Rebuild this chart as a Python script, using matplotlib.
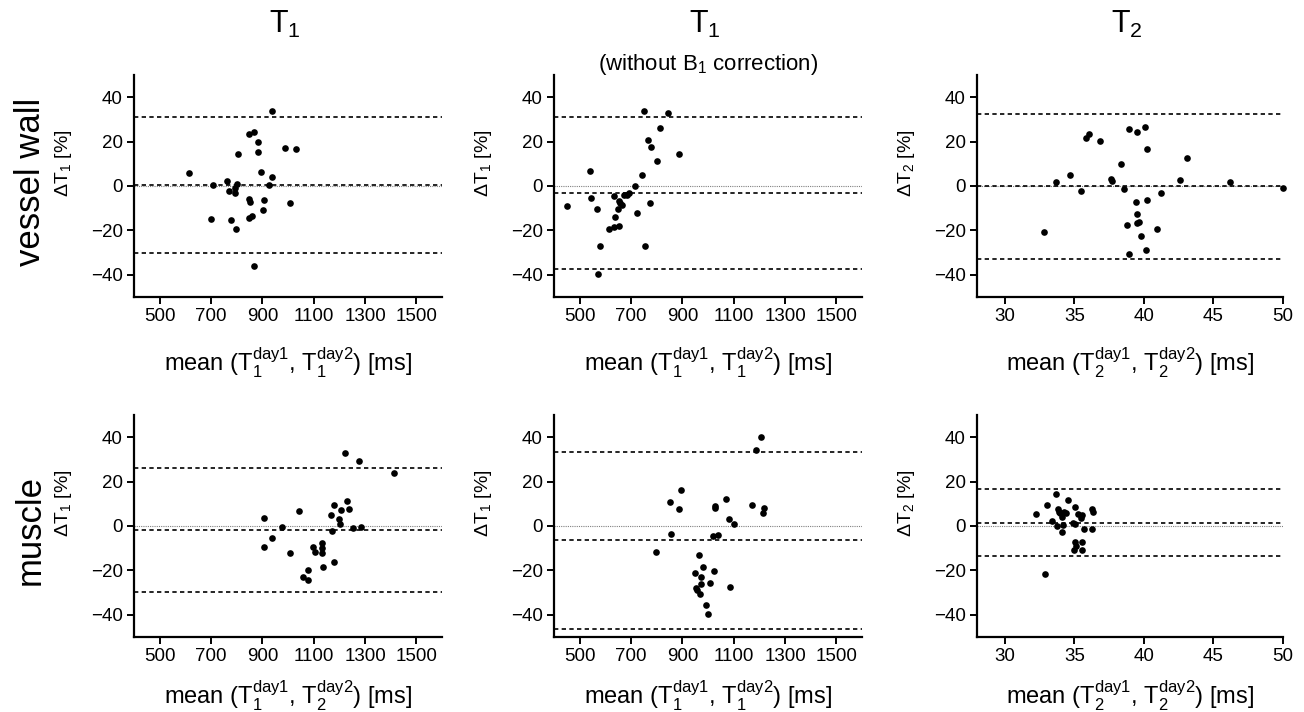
import matplotlib
matplotlib.use("Agg")
import matplotlib.pyplot as plt

plt.rcParams["font.family"] = ["Liberation Sans", "DejaVu Sans"]
plt.rcParams["mathtext.fontset"] = "custom"
plt.rcParams["mathtext.rm"] = "Liberation Sans"
plt.rcParams["mathtext.it"] = "Liberation Sans:italic"
plt.rcParams["mathtext.sf"] = "Liberation Sans"
plt.rcParams["mathtext.default"] = "rm"

# vessel wall, T1
vw_t1_x = [937, 616, 707, 699, 761, 770, 792, 792, 801, 804, 779, 799, 848, 868, 882,
           882, 848, 850, 848, 858, 896, 936, 927, 908, 902, 868, 990, 1031, 1009]
vw_t1_y = [33.8, 5.9, 0.5, -15.0, 2.4, -2.3, -1.0, -3.2, 1.0, 14.4, -15.2, -19.4, 23.5, 24.2, 20.0,
           15.5, -5.7, -7.0, -14.3, -13.5, 6.2, 3.9, 0.6, -6.2, -10.8, -35.9, 17.3, 16.7, -7.5]
vw_t1_loa = [31.3, 0.5, -30.2]

# vessel wall, T1 without B1 correction
vw_t1nb_x = [450, 541, 543, 567, 578, 573, 614, 632, 636, 633, 653, 648, 655, 659, 664,
             674, 683, 693, 714, 723, 743, 750, 755, 768, 778, 775, 800, 812, 843, 887]
vw_t1nb_y = [-9.2, 6.6, -5.3, -10.4, -26.9, -39.7, -19.4, -4.4, -13.8, -18.3, -17.9, -10.4, -6.6, -7.5, -8.4,
             -3.9, -3.9, -3.3, 0.0, -12.3, 4.8, 34.0, -26.9, 20.8, 17.4, -7.5, 11.4, 26.0, 32.9, 14.3]
vw_t1nb_loa = [31.3, -3.0, -37.3]

# vessel wall, T2
vw_t2_x = [32.80, 33.70, 34.71, 35.45, 35.86, 36.02, 36.84, 37.65, 37.67, 38.34, 38.60, 38.82,
           38.91, 38.91, 39.44, 39.51, 39.51, 39.49, 39.65, 39.77, 40.06, 40.23, 40.21, 40.16,
           40.92, 41.21, 42.57, 43.07, 46.16, 50.0]
vw_t2_y = [-20.8, 2.0, 5.1, -2.3, 21.4, 23.2, 20.2, 3.0, 2.4, 10.1, -1.4, -17.4,
           25.6, -30.5, -7.1, 24.1, -12.5, -16.7, -16.4, -22.3, 26.5, 16.7, -6.2, -28.7,
           -19.3, -3.3, 2.7, 12.8, 2.0, -1.1]
vw_t2_loa = [32.5, -0.2, -33.0]

# muscle, T1
mu_t1_x = [905, 908, 939, 975, 1008, 1044, 1060, 1079, 1079, 1099, 1107, 1134, 1133, 1134, 1138,
           1167, 1173, 1181, 1178, 1200, 1203, 1208, 1223, 1230, 1237, 1255, 1275, 1284, 1414]
mu_t1_y = [-9.5, 3.5, -5.3, -0.5, -12.0, 6.9, -23.0, -19.9, -24.4, -9.3, -11.6, -7.5, -10.1, -12.0, -18.3,
           4.8, -2.1, 9.6, -16.1, 3.0, 1.1, 7.2, 32.9, 11.4, 7.5, -1.1, 29.3, -0.3, 23.9]
mu_t1_loa = [26.2, -1.8, -29.8]

# muscle, T1 without B1 correction
mu_t1nb_x = [799, 852, 855, 888, 894, 949, 953, 957, 964, 968, 973, 974, 979, 991, 1001,
             1008, 1023, 1021, 1026, 1028, 1039, 1071, 1081, 1085, 1103, 1170, 1186, 1206, 1214, 1220]
mu_t1nb_y = [-11.9, 10.8, -3.5, 7.8, 16.4, -21.3, -27.8, -29.0, -12.9, -30.5, -23.0, -26.3, -18.3, -35.7, -39.5,
             -25.8, -20.1, -4.7, 9.2, 8.1, -4.2, 12.2, 3.0, -27.5, 0.9, 9.5, 34.2, 40.2, 5.9, 8.0]
mu_t1nb_loa = [33.5, -6.5, -46.2]

# muscle, T2
mu_t2_x = [32.25, 32.92, 33.06, 33.42, 33.68, 33.73, 33.82, 33.87, 33.99, 34.11, 34.13, 34.18,
           34.28, 34.42, 34.54, 34.92, 35.02, 35.02, 34.97, 35.07, 35.09, 35.28, 35.45, 35.54,
           35.57, 35.52, 35.66, 36.24, 36.31, 36.26]
mu_t2_y = [5.4, -21.8, 9.5, 2.4, 14.3, 0.0, 7.7, 6.5, 5.7, 4.2, -2.6, 0.5,
           6.2, 5.7, 11.7, 1.5, 8.7, 0.9, -10.8, -7.4, -8.9, 5.4, 3.5, 4.8,
           -7.1, -10.8, -1.4, 7.8, 6.3, -1.2]
mu_t2_loa = [16.8, 1.4, -13.7]

col_titles = ["T$_1$", "T$_1$", "T$_2$"]
row_labels = ["vessel wall", "muscle"]
ms_ticks = [500, 700, 900, 1100, 1300, 1500]
t2_ticks = [30, 35, 40, 45, 50]
y_ticks = [-40, -20, 0, 20, 40]

lab_11 = "mean (T$_1^{day1}$, T$_1^{day2}$) [ms]"
lab_12 = "mean (T$_1^{day1}$, T$_2^{day2}$) [ms]"
lab_22 = "mean (T$_2^{day1}$, T$_2^{day2}$) [ms]"
yl_1 = "ΔT$_1$ [%]"
yl_2 = "ΔT$_2$ [%]"

panels = [
    [(vw_t1_x, vw_t1_y, vw_t1_loa, lab_11, yl_1, ms_ticks, (400, 1600)),
     (vw_t1nb_x, vw_t1nb_y, vw_t1nb_loa, lab_11, yl_1, ms_ticks, (400, 1600)),
     (vw_t2_x, vw_t2_y, vw_t2_loa, lab_22, yl_2, t2_ticks, (28, 50))],
    [(mu_t1_x, mu_t1_y, mu_t1_loa, lab_12, yl_1, ms_ticks, (400, 1600)),
     (mu_t1nb_x, mu_t1nb_y, mu_t1nb_loa, lab_11, yl_1, ms_ticks, (400, 1600)),
     (mu_t2_x, mu_t2_y, mu_t2_loa, lab_22, yl_2, t2_ticks, (28, 50))],
]

W, H = 1304, 712
fig = plt.figure(figsize=(W / 100, H / 100), dpi=100)

lefts = [134, 554, 977]
widths = [308, 308, 306]
bottoms = [297, 637]
ax_h = 222
xpads = [15, 10]

for r in range(2):
    for c in range(3):
        x, y, loa, xl, yl, xt, xlim = panels[r][c]
        ax = fig.add_axes([lefts[c] / W, 1 - bottoms[r] / H, widths[c] / W, ax_h / H])
        ax.axhline(0, color="0.5", lw=0.8, ls=(0, (1, 1)), zorder=1)
        for v in loa:
            ax.axhline(v, color="black", lw=1.2, ls=(0, (2.6, 2)), zorder=2)
        ax.plot(x, y, "o", color="black", ms=4.8, mec="none", zorder=3, clip_on=False)
        ax.set_xlim(*xlim)
        ax.set_ylim(-50, 50)
        ax.set_xticks(xt)
        ax.set_yticks(y_ticks)
        for s in ["top", "right"]:
            ax.spines[s].set_visible(False)
        for s in ["left", "bottom"]:
            ax.spines[s].set_linewidth(1.6)
        ax.tick_params(direction="out", length=5, width=1.4, labelsize=13.5, pad=3)
        ax.set_xlabel(xl, fontsize=17, labelpad=xpads[r])
        ax.set_ylabel(yl, fontsize=14)
        ax.yaxis.set_label_coords(-60 / widths[c], 0.6)

for c in range(3):
    xc = (lefts[c] + widths[c] / 2 - 3) / W
    fig.text(xc, 1 - 33 / H, col_titles[c], fontsize=22, ha="center", va="baseline")
fig.text((lefts[1] + widths[1] / 2) / W, 1 - 70 / H, "(without B$_1$ correction)",
         fontsize=16, ha="center", va="baseline")

fig.text(30 / W, 1 - 182 / H, row_labels[0], fontsize=25, rotation=90, ha="center", va="center")
fig.text(30 / W, 1 - 530 / H, row_labels[1], fontsize=25, rotation=90, ha="center", va="center")

fig.savefig("out.png", dpi=100)
